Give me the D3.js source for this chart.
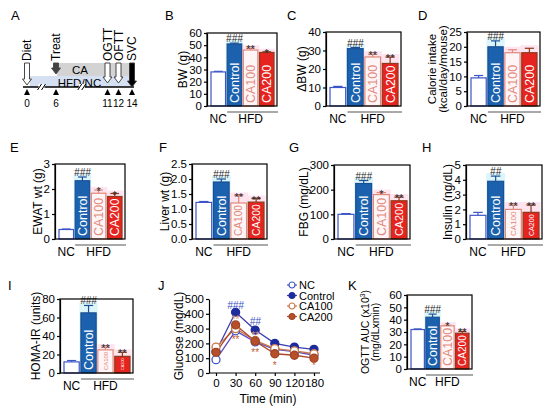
<!DOCTYPE html>
<html>
<head>
<meta charset="utf-8">
<script src="https://cdn.jsdelivr.net/npm/d3@7"></script>
<style>
  body { margin: 0; background: #fff; }
  text { font-family: Arial, "Liberation Sans", sans-serif; }
</style>
</head>
<body>
<div id="fig"></div>
<script>
// Figure: CA treatment in HFD mice - timeline (A), bar panels (B-I, K), OGTT curve (J)

const groups = ['NC', 'Control', 'CA100', 'CA200'];

// bar panel values (mean, upper error, significance mark)
const bwMean = [28, 51, 46, 44], bwErr = [0.5, 0.7, 1.5, 0.6], bwSig = ['', '###', '**', '*'];
const dbwMean = [10, 31, 26.5, 23], dbwErr = [0.6, 0.6, 1.5, 3.5], dbwSig = ['', '###', '**', '**'];
const calMean = [9.5, 20, 18, 18], calErr = [0.8, 2, 1, 1.5], calSig = ['', '###', '', ''];
const ewatMean = [0.38, 2.33, 1.83, 1.7], ewatErr = [0.02, 0.15, 0.13, 0.12], ewatSig = ['', '###', '*', '*'];
const liverMean = [1.22, 1.9, 1.2, 1.23], liverErr = [0.03, 0.1, 0.25, 0.12], liverSig = ['', '###', '**', '**'];
const fbgMean = [100, 225, 180, 155], fbgErr = [3, 12, 8, 15], fbgSig = ['', '###', '*', '**'];
const insMean = [1.6, 3.9, 2.0, 1.8], insErr = [0.2, 0.35, 0.3, 0.5], insSig = ['', '##', '**', '**'];
const homaMean = [12, 65, 25, 18], homaErr = [1.5, 8, 3, 4.5], homaSig = ['', '###', '**', '**'];
const aucMean = [32, 42, 35, 29], aucErr = [0.5, 2.5, 0.5, 1.5], aucSig = ['', '###', '*', '**'];

// OGTT curve (J)
const ogttTimes = [0, 30, 60, 90, 120, 180];
const ogttNC = [90, 285, 210, 160, 145, 120];
const ogttControl = [145, 410, 290, 200, 175, 160];
const ogttCA100 = [175, 300, 220, 165, 150, 130];
const ogttCA200 = [140, 325, 215, 130, 120, 100];
const ogttSigTime = [30, 60, 30, 60, 30, 60, 90, 180];
const ogttSigValue = [462, 350, 362, 255, 232, 140, 55, 55];
const ogttSigText = ['###', '##', '**', '**', '**', '**', '*', '*'];
const ogttSigGroup = ['Control', 'Control', 'CA100', 'CA100', 'CA200', 'CA200', 'CA200', 'CA200'];

// timeline (A)
const timelineWeeks = [0, 6, 11, 12, 14];
const timelineEvents = ['Diet', 'Treat', 'OGTT', 'OFTT', 'SVC'];

const fills = { NC: '#ffffff', Control: '#1b61ae', CA100: '#fff5f7', CA200: '#e5241f' };
const strokes = { NC: '#3d55c6', Control: '#1a4f95', CA100: '#e0897a', CA200: '#8c3b1d' };
const labelColor = { Control: '#ffffff', CA100: '#e0897a', CA200: '#ffffff' };
const haloColor = { Control: '#dbf5fb', CA100: '#fde4ef', CA200: '#fde4ef' };
const lineColor = { NC: '#5a4fc8', Control: '#3a3db0', CA100: '#c8784a', CA200: '#b0482a' };
const markFill = { NC: '#ffffff', Control: '#1f2c9e', CA100: '#ffffff', CA200: '#b5502a' };
const markStroke = { NC: '#3d55c6', Control: '#1f2c9e', CA100: '#c8784a', CA200: '#a04424' };

const svg = d3.select('#fig').append('svg').attr('width', 550).attr('height', 408);

function panelLetter(t, x, y) {
  svg.append('text').attr('x', x).attr('y', y).attr('font-size', 13).text(t);
}

// rotated axis title; x is the baseline of the last line
function yTitle(lines, x, yc, fs) {
  const n = lines.length;
  const t = svg.append('text').attr('transform', `translate(${x},${yc}) rotate(-90)`)
    .attr('text-anchor', 'middle').attr('font-size', fs);
  lines.forEach((l, i) => {
    const ts = t.append('tspan').attr('x', 0).attr('dy', i === 0 ? (-(n - 1) * fs) + 'px' : fs + 'px');
    if (typeof l === 'object') {
      ts.text(l.text);
      t.append('tspan').attr('dy', '-4px').attr('font-size', fs * 0.65).text(l.power);
      t.append('tspan').attr('dy', '4px').text(l.after);
    } else ts.text(l);
  });
}

function styleAxis(g, fs) {
  g.select('.domain').attr('stroke', '#000').attr('stroke-width', 1.2);
  g.selectAll('.tick line').attr('stroke', '#000').attr('stroke-width', 1.2);
  g.selectAll('.tick text').attr('font-size', fs || 11.5).attr('fill', '#000')
    .attr('font-family', 'Arial, "Liberation Sans", sans-serif');
}

function tickWidth(ax) {
  return d3.max(ax.selectAll('.tick text').nodes(), n => n.getBBox().width);
}

function barPanel(p) {
  const [x0, x1, y0, y1] = p.box;
  const g = svg.append('g');
  const y = d3.scaleLinear().domain([0, p.max]).range([y1, y0]);
  const x = d3.scaleBand().domain(groups).range([x0 + 4, x1 - 3]).paddingInner(0.1);
  const bw = x.bandwidth();
  const rows = groups.map((k, i) => ({ k, m: p.mean[i], e: p.err[i], s: p.sig[i] }));

  g.selectAll('rect.halo').data(rows.filter(d => d.k !== 'NC')).join('rect')
    .attr('x', d => x(d.k) - 1.5).attr('y', d => y(d.m + d.e) - 3)
    .attr('width', bw + 3).attr('height', d => y1 - y(d.m + d.e) + 3)
    .attr('fill', d => haloColor[d.k]);

  // error bars (upper only)
  const eb = g.selectAll('g.err').data(rows).join('g');
  eb.append('line').attr('x1', d => x(d.k) + bw / 2).attr('x2', d => x(d.k) + bw / 2)
    .attr('y1', d => y(d.m)).attr('y2', d => y(d.m + d.e)).attr('stroke', d => strokes[d.k]).attr('stroke-width', 1.2);
  eb.append('line').attr('x1', d => x(d.k) + bw * 0.2).attr('x2', d => x(d.k) + bw * 0.8)
    .attr('y1', d => y(d.m + d.e)).attr('y2', d => y(d.m + d.e)).attr('stroke', d => strokes[d.k]).attr('stroke-width', 1.2);

  g.selectAll('rect.bar').data(rows).join('rect')
    .attr('x', d => x(d.k)).attr('y', d => y(d.m)).attr('width', bw).attr('height', d => y1 - y(d.m))
    .attr('fill', d => fills[d.k]).attr('stroke', d => strokes[d.k]).attr('stroke-width', 1.2);

  // group names written inside bars, shrunk to fit short bars
  g.selectAll('text.in').data(rows.filter(d => d.k !== 'NC')).join('text')
    .attr('font-size', 12).attr('fill', d => labelColor[d.k]).text(d => d.k)
    .each(function (d) {
      const room = y1 - y(d.m) - 5;
      const fs = Math.min(12.5, 12 * room / this.getComputedTextLength());
      d3.select(this).attr('font-size', fs)
        .attr('transform', `translate(${x(d.k) + bw / 2 + fs * 0.36},${y1 - 3}) rotate(-90)`);
    });

  g.selectAll('text.sig').data(rows.filter(d => d.s)).join('text')
    .attr('x', d => x(d.k) + bw / 2).attr('y', d => y(d.m + d.e) - 1 + (d.s[0] === '*' ? 6 : 0))
    .attr('text-anchor', 'middle').attr('font-size', d => d.s[0] === '#' ? 10 : 11)
    .attr('font-style', d => d.s[0] === '#' ? 'italic' : 'normal')
    .attr('fill', '#222').text(d => d.s);

  const ax = g.append('g').attr('transform', `translate(${x0},0)`)
    .call(d3.axisLeft(y).tickValues(d3.range(0, p.max + 1e-9, p.step)).tickSize(3).tickSizeOuter(0).tickPadding(2).tickFormat(p.fmt));
  styleAxis(ax);
  g.append('rect').attr('x', x0).attr('y', y0).attr('width', x1 - x0).attr('height', y1 - y0)
    .attr('fill', 'none').attr('stroke', '#000').attr('stroke-width', 1.2);

  // NC / HFD group labels
  g.append('line').attr('x1', x('Control')).attr('x2', x1 + 1).attr('y1', y1 + 6).attr('y2', y1 + 6)
    .attr('stroke', '#555').attr('stroke-width', 1.2);
  g.append('text').attr('x', x('NC') + bw / 2).attr('y', y1 + 17).attr('text-anchor', 'middle').attr('font-size', 12).text('NC');
  g.append('text').attr('x', (x('Control') + x('CA200') + bw) / 2).attr('y', y1 + 17).attr('text-anchor', 'middle').attr('font-size', 12).text('HFD');

  panelLetter(p.id, p.lab[0], p.lab[1]);
  yTitle(p.title, p.tx || (x0 - 5 - tickWidth(ax) - 2), (y0 + y1) / 2, p.tfs || 12);
}

const f0 = d3.format('d'), f1 = d3.format('.1f');
barPanel({ id: 'B', mean: bwMean, err: bwErr, sig: bwSig, max: 60, step: 10, fmt: f0, title: ['BW (g)'], box: [207, 277, 33, 106], lab: [165, 20] });
barPanel({ id: 'C', mean: dbwMean, err: dbwErr, sig: dbwSig, max: 40, step: 10, fmt: f0, title: ['ΔBW (g)'], box: [326, 401, 32, 106], lab: [287, 20] });
barPanel({ id: 'D', mean: calMean, err: calErr, sig: calSig, max: 25, step: 5, fmt: f0, title: ['Calorie intake', '(kcal/day/mouse)'], box: [467, 540, 32, 106], lab: [418, 20], tfs: 11.5 });
barPanel({ id: 'E', mean: ewatMean, err: ewatErr, sig: ewatSig, max: 3, step: 1, fmt: f0, title: ['EWAT wt (g)'], box: [55, 125, 164, 239], lab: [10, 152] });
barPanel({ id: 'F', mean: liverMean, err: liverErr, sig: liverSig, max: 2.5, step: 0.5, fmt: f1, title: ['Liver wt (g)'], box: [192, 267, 164, 239], lab: [159, 152] });
barPanel({ id: 'G', mean: fbgMean, err: fbgErr, sig: fbgSig, max: 300, step: 100, fmt: f0, title: ['FBG (mg/dL)'], box: [334, 410, 165, 239], lab: [289, 152] });
barPanel({ id: 'H', mean: insMean, err: insErr, sig: insSig, max: 5, step: 1, fmt: f0, title: ['Insulin (ng/dL)'], box: [466, 542, 165, 239], lab: [422, 152] });
barPanel({ id: 'I', mean: homaMean, err: homaErr, sig: homaSig, max: 80, step: 20, fmt: f0, title: ['HOMA-IR (units)'], box: [60, 133, 299, 373], lab: [8, 290] });
barPanel({ id: 'K', mean: aucMean, err: aucErr, sig: aucSig, max: 60, step: 10, fmt: f0,
  title: [{ text: 'OGTT AUC (x10', power: '3', after: ')' }, '(mg/dLxmin)'], box: [407, 472, 295, 369], lab: [348, 290], tx: 379, tfs: 10.5 });

// ---- J: OGTT curve ----
(function () {
  const x0 = 209, x1 = 320, y0 = 299, y1 = 373;
  const x = d3.scalePoint().domain(ogttTimes).range([216, 314]);
  const y = d3.scaleLinear().domain([0, 500]).range([y1, y0]);
  const g = svg.append('g');
  const series = [
    { k: 'NC', v: ogttNC }, { k: 'Control', v: ogttControl },
    { k: 'CA100', v: ogttCA100 }, { k: 'CA200', v: ogttCA200 }
  ];
  const line = d3.line().x((d, i) => x(ogttTimes[i])).y(d => y(d));
  g.selectAll('path.s').data(series).join('path')
    .attr('d', d => line(d.v)).attr('fill', 'none').attr('stroke', d => lineColor[d.k]).attr('stroke-width', 1.3);
  series.forEach(s => {
    g.selectAll(null).data(s.v).join('circle')
      .attr('cx', (d, i) => x(ogttTimes[i])).attr('cy', d => y(d)).attr('r', 4)
      .attr('fill', markFill[s.k]).attr('stroke', markStroke[s.k]).attr('stroke-width', 1.3);
  });
  const sig = ogttSigTime.map((t, i) => ({ t, v: ogttSigValue[i], s: ogttSigText[i], k: ogttSigGroup[i] }));
  g.selectAll('text.sig').data(sig).join('text')
    .attr('x', d => x(d.t)).attr('y', d => y(d.v) + 4)
    .attr('text-anchor', 'middle').attr('font-size', 10)
    .attr('font-style', d => d.s[0] === '#' ? 'italic' : 'normal')
    .attr('fill', d => d.k === 'Control' ? '#3a4fc0' : d.k === 'CA100' ? '#d89070' : '#c06040')
    .text(d => d.s);

  const ay = g.append('g').attr('transform', `translate(${x0},0)`)
    .call(d3.axisLeft(y).ticks(5).tickSize(3).tickSizeOuter(0).tickPadding(2));
  styleAxis(ay);
  const ax = g.append('g').attr('transform', `translate(0,${y1})`)
    .call(d3.axisBottom(x).tickSize(3).tickPadding(3));
  styleAxis(ax, 11.5);
  ax.select('.domain').attr('d', `M${x0},0H${x1}`);
  g.append('text').attr('x', 268).attr('y', 403).attr('text-anchor', 'middle').attr('font-size', 12).text('Time (min)');
  panelLetter('J', 158, 290);
  yTitle(['Glucose (mg/dL)'], x0 - 5 - tickWidth(ay) - 2, (y0 + y1) / 2, 12);

  // legend
  const lg = g.selectAll('g.lg').data(series).join('g').attr('transform', (d, i) => `translate(292,${285 + i * 10.5})`);
  lg.append('line').attr('x1', -5).attr('x2', 5).attr('stroke', d => lineColor[d.k]).attr('stroke-width', 1.2);
  lg.append('circle').attr('r', 3).attr('fill', d => markFill[d.k]).attr('stroke', d => markStroke[d.k]).attr('stroke-width', 1.2);
  lg.append('text').attr('x', 7).attr('y', 4).attr('font-size', 11).text(d => d.k);
})();

// ---- A: timeline ----
(function () {
  const tl = d3.scaleLinear().domain(timelineWeeks).range([27, 56, 107.5, 118.5, 132]);
  const base = 87;
  const g = svg.append('g');
  panelLetter('A', 11, 20);
  // HFD/NC and CA boxes
  g.append('rect').attr('x', tl(0) + 3).attr('y', 76).attr('width', tl(14) - tl(0) - 5).attr('height', base - 76)
    .attr('fill', '#d6e0f3');
  g.append('rect').attr('x', tl(6) + 1).attr('y', 63).attr('width', tl(14) - tl(6) - 3).attr('height', 13)
    .attr('fill', '#d3d3d3');
  g.append('text').attr('x', (tl(6) + tl(14)) / 2 - 14).attr('y', 73.5).attr('text-anchor', 'middle').attr('font-size', 11.5).text('CA');
  g.append('text').attr('x', (tl(0) + tl(14)) / 2).attr('y', 86.5).attr('text-anchor', 'middle').attr('font-size', 11.5).text('HFD/NC');
  g.append('line').attr('x1', tl(0) - 4).attr('x2', tl(14) + 2).attr('y1', base).attr('y2', base).attr('stroke', '#000').attr('stroke-width', 1.3);
  // axis breaks
  [3, 8.5].forEach(w => {
    const bx = tl(w);
    g.append('rect').attr('x', bx - 3).attr('y', base - 3).attr('width', 6).attr('height', 6).attr('fill', '#fff');
    [-2, 2].forEach(o => g.append('line').attr('x1', bx + o - 2).attr('x2', bx + o + 2).attr('y1', base + 3).attr('y2', base - 3)
      .attr('stroke', '#000').attr('stroke-width', 1));
  });
  const ev = timelineWeeks.map((w, i) => ({ w, name: timelineEvents[i] }));
  const arrowEnd = { Diet: 85, Treat: 74, OGTT: 83, OFTT: 83, SVC: 87 };
  const arrowFill = { Diet: '#fff', Treat: '#444', OGTT: '#fff', OFTT: '#fff', SVC: '#000' };
  ev.forEach(d => {
    const cx = tl(d.w), top = 63, end = arrowEnd[d.name], hl = 6, sw = 2.5, hw = 4.5;
    const pts = [[cx - sw, top], [cx + sw, top], [cx + sw, end - hl], [cx + hw, end - hl], [cx, end], [cx - hw, end - hl], [cx - sw, end - hl]];
    g.append('path').attr('d', 'M' + pts.join('L') + 'Z').attr('fill', arrowFill[d.name])
      .attr('stroke', d.name === 'Treat' ? '#444' : '#333').attr('stroke-width', 0.9);
    g.append('text').attr('transform', `translate(${cx + 4.2},61) rotate(-90)`).attr('font-size', 12).text(d.name);
    g.append('path').attr('d', `M${cx - 3},95L${cx + 3},95L${cx},89Z`).attr('fill', '#000');
    g.append('text').attr('x', cx).attr('y', 107).attr('text-anchor', 'middle').attr('font-size', 10).text(d.w);
  });
})();
</script>
</body>
</html>
